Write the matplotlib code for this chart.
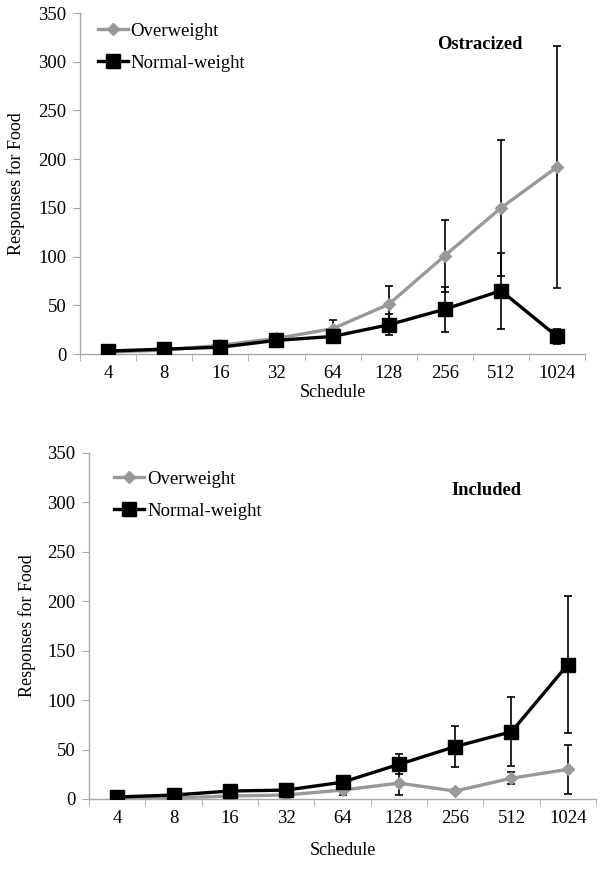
import matplotlib
matplotlib.use("Agg")
import matplotlib.pyplot as plt
import numpy as np

plt.rcParams['font.family'] = ['Liberation Serif', 'DejaVu Serif']

schedule = ["4", "8", "16", "32", "64", "128", "256", "512", "1024"]

# Ostracized
ostr_over = [2, 4, 9, 16, 26, 51, 101, 150, 192]
ostr_over_err = [1, 1, 2, 3, 9, 19, 37, 70, 124]
ostr_norm = [3, 5, 7, 14, 18, 30, 46, 65, 18]
ostr_norm_err = [1, 1, 2, 3, 4, 11, 23, 39, 8]

# Included
incl_over = [0.5, 1, 3, 4, 9, 16, 8, 21, 30]
incl_over_err = [0.5, 1, 1, 1, 5, 12, 2, 6, 25]
incl_norm = [2, 4, 8, 9, 17, 35, 53, 68, 136]
incl_norm_err = [1, 1, 1, 1, 2, 10, 21, 35, 69]

yticks = [0, 50, 100, 150, 200, 250, 300, 350]

GRAY = "#999999"
AXC = "#a6a6a6"
FS = 13.5

fig = plt.figure(figsize=(6.02, 8.73), dpi=100)
ax1 = fig.add_axes([0.133, 0.5945, 0.839, 0.3905])
ax2 = fig.add_axes([0.148, 0.0848, 0.842, 0.3963])


def draw(ax, over, over_err, norm, norm_err, title, tx, ty, xlab_pad, leg_anchor):
    x = np.arange(len(schedule))
    ax.errorbar(x, over, yerr=over_err, fmt='none', ecolor='black', elinewidth=1.2,
                capsize=2.6, capthick=1.2, zorder=2)
    ax.errorbar(x, norm, yerr=norm_err, fmt='none', ecolor='black', elinewidth=1.2,
                capsize=2.6, capthick=1.2, zorder=2)
    ax.plot(x, over, color=GRAY, lw=2.4, marker='D', markersize=6.5,
            markerfacecolor=GRAY, markeredgecolor=GRAY, label="Overweight", zorder=3)
    ax.plot(x, norm, color='black', lw=2.4, marker='s', markersize=9.5,
            markerfacecolor='black', markeredgecolor='black', label="Normal-weight", zorder=4)
    ax.set_xlim(-0.5, len(schedule) - 0.5)
    ax.set_ylim(0, 350)
    ax.set_yticks(yticks)
    ax.set_xticks(x)
    ax.set_xticklabels(schedule)
    ax.set_xticks(np.arange(-0.5, len(schedule), 1.0), minor=True)
    ax.tick_params(axis='x', which='major', length=0, pad=8, labelsize=FS)
    ax.tick_params(axis='x', which='minor', length=5, color=AXC, direction='out')
    ax.tick_params(axis='y', which='major', length=5, color=AXC, direction='out',
                   labelsize=FS, pad=5)
    for s in ['top', 'right']:
        ax.spines[s].set_visible(False)
    for s in ['left', 'bottom']:
        ax.spines[s].set_color(AXC)
        ax.spines[s].set_linewidth(1.0)
    ax.set_ylabel("Responses for Food", fontsize=13)
    ax.set_xlabel("Schedule", fontsize=13, labelpad=xlab_pad)
    ax.text(tx, ty, title, transform=ax.transAxes, fontsize=13.3, fontweight='bold',
            ha='center', va='center')
    ax.legend(loc='upper left', bbox_to_anchor=leg_anchor, bbox_transform=fig.transFigure,
              frameon=False, fontsize=FS, handlelength=1.6, handletextpad=0.15,
              labelspacing=0.8, borderaxespad=0, borderpad=0)


draw(ax1, ostr_over, ostr_over_err, ostr_norm, ostr_norm_err, "Ostracized",
     0.792, 0.909, 1, (0.162, 0.974))
draw(ax2, incl_over, incl_over_err, incl_norm, incl_norm_err, "Included",
     0.783, 0.893, 11, (0.190, 0.461))

ax1.yaxis.set_label_coords(0.041, 0.5945 + 0.3905 / 2, transform=fig.transFigure)
ax2.yaxis.set_label_coords(0.059, 0.0848 + 0.3963 / 2, transform=fig.transFigure)

fig.savefig("out.png", dpi=100)
